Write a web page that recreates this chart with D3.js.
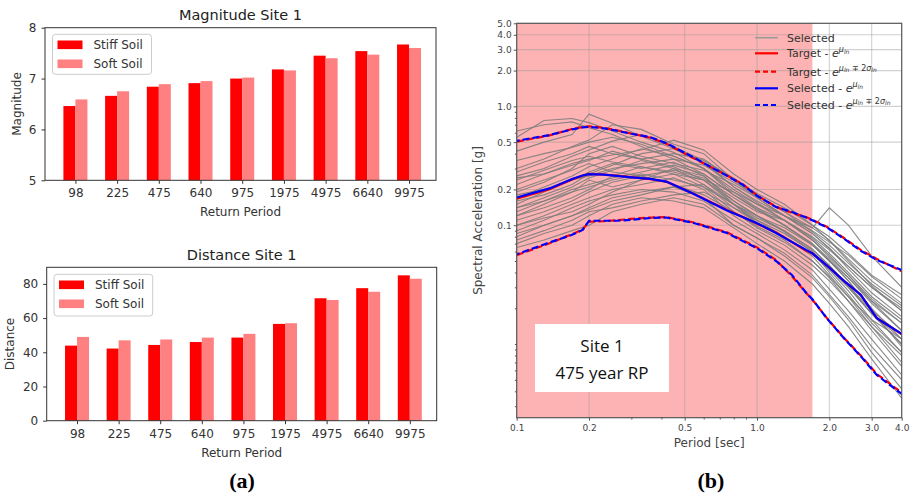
<!DOCTYPE html>
<html><head><meta charset="utf-8">
<script src="https://cdn.jsdelivr.net/npm/d3@7"></script>
<style>body{margin:0;background:#fff} svg{display:block}</style>
</head><body>
<svg id="c" width="912" height="499"></svg>
<script>
// ---------- DATA ----------
const returnPeriods = ["98","225","475","640","975","1975","4975","6640","9975"];
const magStiff  = [6.46,6.66,6.84,6.91,7.00,7.18,7.45,7.54,7.67];
const magSoft   = [6.59,6.75,6.89,6.95,7.02,7.16,7.40,7.47,7.60];
const distStiff = [43.9,42.2,44.3,46.0,48.6,56.6,71.6,77.5,85.0];
const distSoft  = [49.0,47.0,47.5,48.6,50.8,57.0,70.6,75.4,83.0];
const magTicks  = [5,6,7,8];
const distTicks = [0,20,40,60,80];
const seriesNames = ["Stiff Soil","Soft Soil"];

// spectra: periods (s) for the selected records
const recordPeriods = [0.1,0.13,0.17,0.2,0.25,0.33,0.45,0.6,0.8,1.0,1.3,1.7,2.0,2.4,3.0,4.0];
const records = [
 [0.62,0.70,0.74,0.66,0.58,0.46,0.36,0.27,0.18,0.135,0.10,0.07,0.05,0.034,0.020,0.011],
 [0.55,0.76,0.79,0.73,0.62,0.50,0.41,0.30,0.20,0.15,0.11,0.075,0.056,0.038,0.024,0.015],
 [0.42,0.50,0.58,0.86,0.72,0.56,0.44,0.33,0.21,0.155,0.11,0.078,0.058,0.040,0.025,0.016],
 [0.30,0.36,0.46,0.52,0.70,0.64,0.48,0.40,0.24,0.17,0.12,0.085,0.064,0.045,0.030,0.019],
 [0.26,0.30,0.38,0.43,0.51,0.58,0.46,0.35,0.25,0.18,0.13,0.095,0.075,0.052,0.034,0.022],
 [0.22,0.27,0.33,0.36,0.39,0.43,0.52,0.43,0.27,0.20,0.15,0.10,0.080,0.058,0.038,0.026],
 [0.19,0.23,0.30,0.40,0.46,0.38,0.33,0.29,0.22,0.17,0.12,0.095,0.140,0.100,0.055,0.030],
 [0.17,0.21,0.26,0.31,0.36,0.44,0.38,0.30,0.18,0.135,0.10,0.070,0.052,0.036,0.022,0.013],
 [0.15,0.19,0.24,0.28,0.33,0.30,0.34,0.26,0.16,0.12,0.09,0.062,0.046,0.031,0.018,0.010],
 [0.14,0.17,0.21,0.25,0.29,0.35,0.30,0.22,0.14,0.11,0.085,0.060,0.040,0.026,0.015,0.0085],
 [0.13,0.16,0.20,0.22,0.25,0.28,0.32,0.27,0.18,0.14,0.10,0.068,0.050,0.036,0.023,0.015],
 [0.12,0.15,0.19,0.24,0.21,0.24,0.27,0.24,0.15,0.105,0.08,0.055,0.038,0.025,0.014,0.007],
 [0.11,0.13,0.16,0.19,0.23,0.26,0.22,0.18,0.13,0.098,0.075,0.050,0.036,0.023,0.013,0.0065],
 [0.10,0.12,0.15,0.17,0.20,0.22,0.25,0.20,0.12,0.09,0.068,0.046,0.034,0.023,0.014,0.008],
 [0.09,0.11,0.14,0.16,0.18,0.20,0.19,0.16,0.11,0.085,0.062,0.042,0.029,0.019,0.011,0.0055],
 [0.08,0.10,0.12,0.14,0.17,0.19,0.21,0.17,0.10,0.078,0.055,0.036,0.025,0.016,0.0085,0.0042],
 [0.07,0.085,0.10,0.12,0.15,0.17,0.16,0.14,0.095,0.07,0.050,0.032,0.022,0.014,0.0075,0.0035],
 [0.065,0.075,0.09,0.10,0.13,0.15,0.17,0.15,0.10,0.078,0.058,0.038,0.026,0.017,0.0095,0.005],
 [0.20,0.24,0.29,0.33,0.28,0.26,0.29,0.25,0.17,0.13,0.11,0.08,0.062,0.045,0.030,0.020],
 [0.24,0.29,0.35,0.38,0.34,0.31,0.27,0.21,0.15,0.115,0.09,0.063,0.046,0.031,0.019,0.012],
 [0.16,0.18,0.22,0.27,0.32,0.40,0.44,0.34,0.21,0.16,0.12,0.085,0.064,0.043,0.027,0.017],
 [0.18,0.20,0.24,0.26,0.30,0.33,0.36,0.32,0.23,0.175,0.13,0.088,0.068,0.048,0.032,0.021],
 [0.28,0.34,0.40,0.46,0.40,0.36,0.40,0.36,0.24,0.185,0.14,0.10,0.074,0.050,0.031,0.019],
 [0.12,0.14,0.17,0.20,0.26,0.31,0.28,0.24,0.19,0.15,0.12,0.09,0.072,0.056,0.037,0.024],
 [0.10,0.115,0.13,0.15,0.19,0.24,0.30,0.26,0.15,0.11,0.08,0.057,0.043,0.030,0.018,0.010],
 [0.085,0.10,0.12,0.135,0.16,0.18,0.21,0.22,0.15,0.12,0.095,0.068,0.050,0.034,0.019,0.0095],
 [0.35,0.40,0.45,0.50,0.55,0.48,0.38,0.30,0.19,0.14,0.11,0.075,0.054,0.038,0.023,0.013],
 [0.14,0.16,0.19,0.21,0.24,0.27,0.24,0.21,0.13,0.095,0.072,0.05,0.037,0.025,0.016,0.011],
 [0.075,0.09,0.11,0.13,0.14,0.16,0.18,0.19,0.14,0.105,0.078,0.057,0.042,0.028,0.016,0.0085],
 [0.25,0.27,0.32,0.35,0.42,0.36,0.31,0.24,0.16,0.12,0.088,0.060,0.044,0.030,0.018,0.011]
];
const statPeriods   = [0.1,0.137,0.17,0.188,0.2,0.23,0.26,0.3,0.36,0.42,0.54,0.75,0.87,1.0,1.2,1.4,1.6,1.7,1.95,2.3,2.7,3.15,4.0];
const selectedMean  = [0.171,0.204,0.245,0.262,0.269,0.266,0.260,0.253,0.245,0.233,0.185,0.133,0.117,0.104,0.086,0.072,0.062,0.058,0.046,0.034,0.026,0.0165,0.0122];
const selectedUpper = [0.513,0.574,0.64,0.665,0.672,0.654,0.625,0.588,0.55,0.49,0.375,0.26,0.22,0.177,0.142,0.129,0.116,0.110,0.096,0.077,0.061,0.051,0.042];
const selectedLower = [0.057,0.0715,0.083,0.0913,0.109,0.109,0.109,0.111,0.115,0.116,0.105,0.086,0.0738,0.064,0.050,0.038,0.027,0.0238,0.0165,0.0112,0.0079,0.0055,0.0038];
const targetMean    = [0.167,0.201,0.243,0.261,0.270,0.267,0.261,0.254,0.244,0.232,0.186,0.134,0.118,0.103,0.087,0.072,0.061,0.058,0.046,0.034,0.026,0.0166,0.0121];
const targetUpper   = [0.505,0.57,0.645,0.67,0.68,0.66,0.63,0.59,0.545,0.485,0.37,0.262,0.222,0.178,0.143,0.127,0.117,0.111,0.097,0.078,0.062,0.052,0.041];
const targetLower   = [0.056,0.0705,0.084,0.092,0.107,0.108,0.110,0.113,0.116,0.117,0.106,0.087,0.075,0.065,0.051,0.037,0.027,0.0236,0.0166,0.0113,0.0080,0.0056,0.0039];
const saTicks     = [0.1,0.2,0.5,1,2,3,4,5];
const periodTicks = [0.1,0.2,0.5,1,2,3,4];
const shadeEnd = 1.7;
const legendLabels = ["Selected","Target - ","Target - ","Selected - ","Selected - "];

// ---------- DRAW ----------
const svg = d3.select("#c");
const FONT = "DejaVu Sans";

function barChart(o){
  const g = svg.append("g").attr("font-family",FONT);
  const x = d3.scalePoint().domain(returnPeriods).range([o.left,o.right]).padding(0.688).align(0.53);
  const y = d3.scaleLinear().domain(o.yDomain).range([o.bottom,o.top]);
  const bw = 12;
  g.selectAll("rect.stiff").data(o.stiff).join("rect").attr("class","stiff")
    .attr("x",(d,i)=>x(returnPeriods[i])-bw).attr("width",bw)
    .attr("y",d=>y(d)).attr("height",d=>o.bottom-y(d)).attr("fill","#ff0000");
  g.selectAll("rect.soft").data(o.soft).join("rect").attr("class","soft")
    .attr("x",(d,i)=>x(returnPeriods[i])).attr("width",bw)
    .attr("y",d=>y(d)).attr("height",d=>o.bottom-y(d)).attr("fill","#ff8080");
  g.append("rect").attr("x",o.left).attr("y",o.top).attr("width",o.right-o.left).attr("height",o.bottom-o.top)
    .attr("fill","none").attr("stroke","#333").attr("stroke-width",1);
  const xa = g.append("g").attr("transform",`translate(0,${o.bottom})`)
    .call(d3.axisBottom(x).tickSize(3.5).tickPadding(5));
  const ya = g.append("g").attr("transform",`translate(${o.left},0)`)
    .call(d3.axisLeft(y).tickValues(o.ticks).tickFormat(d3.format("d")).tickSize(3.5).tickPadding(5));
  [xa,ya].forEach(a=>{
    a.select(".domain").remove();
    a.selectAll("line").attr("stroke","#333");
    a.selectAll("text").attr("font-size",12).attr("font-family",FONT).attr("fill","#333");
  });
  g.append("text").attr("x",(o.left+o.right)/2).attr("y",o.titleY).attr("text-anchor","middle")
    .attr("font-size",14.5).attr("fill","#222").text(o.title);
  g.append("text").attr("x",(o.left+o.right)/2).attr("y",o.xlabY).attr("text-anchor","middle")
    .attr("font-size",12).attr("fill","#333").text("Return Period");
  g.append("text").attr("transform",`translate(${o.ylabX},${(o.top+o.bottom)/2}) rotate(-90)`)
    .attr("dy","0.35em").attr("text-anchor","middle").attr("font-size",12).attr("fill","#333").text(o.ylabel);
  const L = o.legend;
  g.append("rect").attr("x",L.x).attr("y",L.y).attr("width",L.w).attr("height",L.h).attr("rx",3)
    .attr("fill","#fff").attr("fill-opacity",0.8).attr("stroke","#ccc");
  seriesNames.forEach((s,i)=>{
    const cy = L.y + 10.5 + i*19;
    g.append("rect").attr("x",L.x+5).attr("y",cy-4.3).attr("width",25).attr("height",8.6)
      .attr("fill", i===0?"#ff0000":"#ff8080");
    g.append("text").attr("x",L.x+41).attr("y",cy).attr("dy","0.36em").attr("font-size",12)
      .attr("fill","#333").text(s);
  });
}

barChart({left:45,right:436,top:27.7,bottom:180.3,yDomain:[5,8],ticks:magTicks,stiff:magStiff,soft:magSoft,
  title:"Magnitude Site 1",titleY:20.3,xlabY:216,ylabel:"Magnitude",ylabX:17,
  legend:{x:52.5,y:34.3,w:99,h:40}});
barChart({left:46.7,right:436.7,top:267.3,bottom:420.7,yDomain:[0,89.7],ticks:distTicks,stiff:distStiff,soft:distSoft,
  title:"Distance Site 1",titleY:260.3,xlabY:457,ylabel:"Distance",ylabX:9.5,
  legend:{x:54,y:274.3,w:98.7,h:41.7}});

svg.append("text").attr("x",242).attr("y",488).attr("text-anchor","middle")
  .attr("font-family","Liberation Serif").attr("font-weight","bold").attr("font-size",22).text("(a)");
svg.append("text").attr("x",711).attr("y",488).attr("text-anchor","middle")
  .attr("font-family","Liberation Serif").attr("font-weight","bold").attr("font-size",22).text("(b)");

// ---------- spectra chart ----------
const R = {left:516.7,right:901.7,top:23.3,bottom:417.7};
const x = d3.scaleLog().domain([0.1,4]).range([R.left,R.right]);
const y = d3.scaleLog().domain([0.0024,5]).range([R.bottom,R.top]);
const rg = svg.append("g").attr("font-family",FONT);
rg.append("clipPath").attr("id","clipR").append("rect")
  .attr("x",R.left).attr("y",R.top).attr("width",R.right-R.left).attr("height",R.bottom-R.top);
rg.append("rect").attr("x",x(0.1)).attr("y",R.top).attr("width",x(shadeEnd)-x(0.1)).attr("height",R.bottom-R.top)
  .attr("fill","#fdb3b3");
const gridG = rg.append("g").attr("stroke","#9a9a9a").attr("stroke-opacity",0.45).attr("stroke-width",1.1);
periodTicks.filter(t=>t>0.1&&t<4).forEach(t=>gridG.append("line").attr("x1",x(t)).attr("x2",x(t)).attr("y1",R.top).attr("y2",R.bottom));
saTicks.filter(t=>t<5).forEach(t=>gridG.append("line").attr("y1",y(t)).attr("y2",y(t)).attr("x1",R.left).attr("x2",R.right));

const plot = rg.append("g").attr("clip-path","url(#clipR)");
const line = d3.line().x(d=>x(d[0])).y(d=>y(d[1]));
records.forEach(r=>{
  plot.append("path").attr("d",line(recordPeriods.map((p,i)=>[p,r[i]])))
    .attr("fill","none").attr("stroke","#7d7d7d").attr("stroke-width",1.1).attr("stroke-opacity",0.9);
});
function stat(vals,color,dash,offset){
  const p = plot.append("path").attr("d",line(statPeriods.map((t,i)=>[t,vals[i]])))
    .attr("fill","none").attr("stroke",color).attr("stroke-width",2.2);
  if(dash) p.attr("stroke-dasharray",dash).attr("stroke-dashoffset",offset||0);
}
stat(targetMean,"#ff0000");
stat(targetUpper,"#ff0000","7,3",0);
stat(targetLower,"#ff0000","7,3",0);
stat(selectedMean,"#0000ff");
stat(selectedUpper,"#0000ff","7,3",4);
stat(selectedLower,"#0000ff","7,3",4);

rg.append("rect").attr("x",R.left).attr("y",R.top).attr("width",R.right-R.left).attr("height",R.bottom-R.top)
  .attr("fill","none").attr("stroke","#555").attr("stroke-width",1.2);
const minorY=[]; for(let n=-3;n<=0;n++) for(let k=1;k<=9;k++){const v=k*Math.pow(10,n); if(v>=0.0024&&v<=5&&!saTicks.some(t=>Math.abs(t-v)<1e-9)) minorY.push(v);}
const minorX=[0.3,0.4,0.6,0.7,0.8,0.9];
const ax1 = rg.append("g").attr("transform",`translate(${R.left},0)`).call(d3.axisLeft(y).tickValues(saTicks).tickFormat(d3.format(".1f")).tickSize(3).tickPadding(2));
const ax2 = rg.append("g").attr("transform",`translate(${R.left},0)`).call(d3.axisLeft(y).tickValues(minorY).tickFormat("").tickSize(1.8));
const ax3 = rg.append("g").attr("transform",`translate(0,${R.bottom})`).call(d3.axisBottom(x).tickValues(periodTicks).tickFormat(d3.format(".1f")).tickSize(3).tickPadding(4));
const ax4 = rg.append("g").attr("transform",`translate(0,${R.bottom})`).call(d3.axisBottom(x).tickValues(minorX).tickFormat("").tickSize(1.8));
[ax1,ax2,ax3,ax4].forEach(a=>{
  a.select(".domain").remove();
  a.selectAll("line").attr("stroke","#555");
  a.selectAll("text").attr("font-size",9).attr("font-family",FONT).attr("fill","#444");
});
rg.append("text").attr("x",(R.left+R.right)/2).attr("y",446.5).attr("text-anchor","middle")
  .attr("font-size",12).attr("fill","#444").text("Period [sec]");
rg.append("text").attr("transform",`translate(478,${(R.top+R.bottom)/2}) rotate(-90)`).attr("dy","0.35em")
  .attr("text-anchor","middle").attr("font-size",12).attr("fill","#444").text("Spectral Acceleration [g]");

const legRows = [37.7,53.3,71.7,88.3,105];
const legStyles = [
  {c:"#999",d:null,w:1.5},{c:"#ff0000",d:null,w:2.2},{c:"#ff0000",d:"5,3",w:2.2},{c:"#0000ff",d:null,w:2.2},{c:"#0000ff",d:"5,3",w:2.2}
];
legendLabels.forEach((lab,i)=>{
  const cy = legRows[i], s = legStyles[i];
  const l = rg.append("line").attr("x1",755).attr("x2",778).attr("y1",cy).attr("y2",cy)
    .attr("stroke",s.c).attr("stroke-width",s.w);
  if(s.d) l.attr("stroke-dasharray",s.d);
  const t = rg.append("text").attr("x",787).attr("y",cy).attr("dy","0.36em").attr("font-size",11).attr("fill","#333");
  t.append("tspan").text(lab);
  if(i>0){
    t.append("tspan").attr("font-style","italic").text("e");
    t.append("tspan").attr("font-size",8).attr("font-style","italic").attr("dy",-5).text("μ");
    t.append("tspan").attr("font-size",6).attr("font-style","italic").attr("dy",1.5).text("ln");
    if(i===2||i===4){
      t.append("tspan").attr("font-size",8).attr("dy",-1.5).text(" ∓ 2");
      t.append("tspan").attr("font-size",8).attr("font-style","italic").text("σ");
      t.append("tspan").attr("font-size",6).attr("font-style","italic").attr("dy",1.5).text("ln");
    }
  }
});

rg.append("rect").attr("x",535).attr("y",324).attr("width",134).attr("height",68).attr("fill","#fff");
rg.append("text").attr("x",602).attr("y",352).attr("text-anchor","middle").attr("font-family","Open Sans")
  .attr("font-size",17).attr("fill","#111").text("Site 1");
rg.append("text").attr("x",602).attr("y",379).attr("text-anchor","middle").attr("font-family","Open Sans")
  .attr("font-size",17).attr("fill","#111").text("475 year RP");
</script>
</body></html>
